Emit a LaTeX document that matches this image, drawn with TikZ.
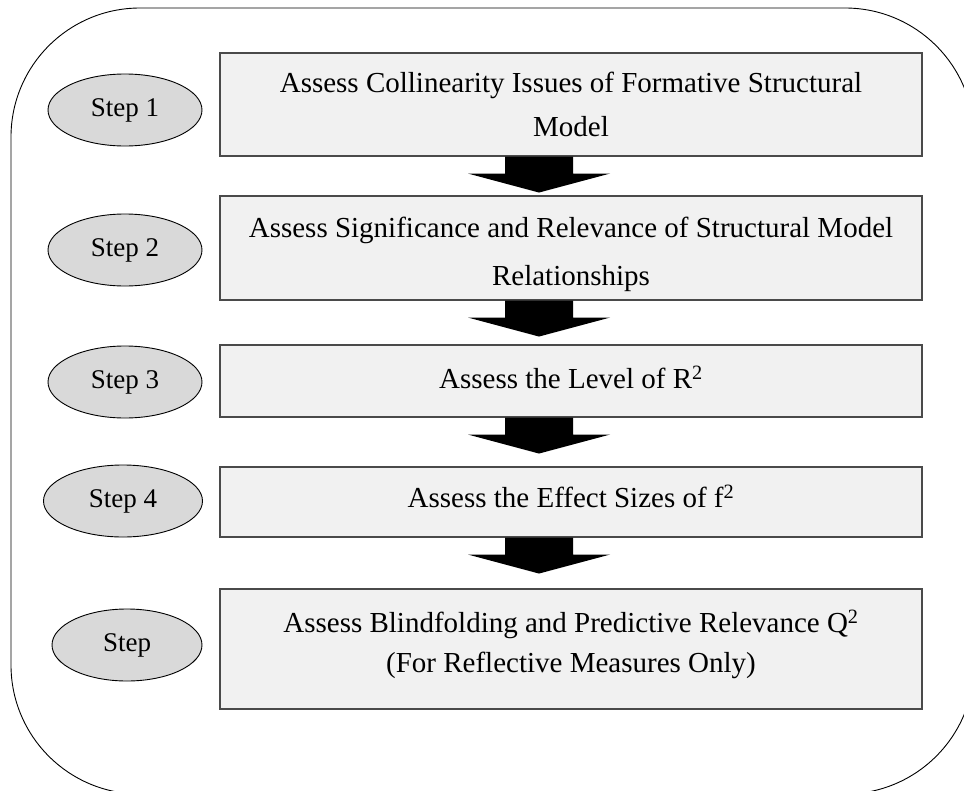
\documentclass[tikz,border=0pt]{standalone}
\usepackage{fontspec}
\setmainfont{Liberation Serif}
\usetikzlibrary{shapes.geometric,calc}
\definecolor{boxgray}{HTML}{F1F1F1}
\definecolor{ovalgray}{HTML}{D9D9D9}
\definecolor{edgegray}{HTML}{4A4A4A}
\begin{document}
\begin{tikzpicture}[x=1pt,y=-1pt,
  stepbox/.style={rectangle,draw=edgegray,fill=boxgray,line width=1.1pt,minimum width=702pt,inner sep=0pt},
  steptext/.style={align=center,inner sep=0pt,font=\fontsize{29}{44}\selectfont},
  stepoval/.style={ellipse,draw=black,fill=ovalgray,line width=0.9pt,inner sep=0pt,minimum height=72pt,font=\rmfamily\fontsize{27}{30}\selectfont},
  blockarrow/.style={fill=black}]
\useasboundingbox (0,0) rectangle (964,790);
\draw[line width=0.9pt, rounded corners=129pt] (11,8) rectangle (974,794);
\coordinate (ax) at (539,0);
% boxes
\node[stepbox, minimum height=103pt] (b1) at (571,104.5) {};
\node[stepbox, minimum height=104pt] (b2) at (571,248) {};
\node[stepbox, minimum height=72pt] (b3) at (571,381) {};
\node[stepbox, minimum height=70pt] (b4) at (571,502) {};
\node[stepbox, minimum height=120pt] (b5) at (571,649) {};
% box texts
\node[steptext] (t1) at ([yshift=0pt]b1.center) {Assess Collinearity Issues of Formative Structural\\Model};
\node[steptext] (t2) at ([yshift=-6pt]b2.center) {Assess Significance and Relevance of Structural Model\\[4pt]Relationships};
\node[steptext] (t3) at ([yshift=4pt]b3.center) {Assess the Level of R\textsuperscript{2}};
\node[steptext] (t4) at ([yshift=6pt]b4.center) {Assess the Effect Sizes of f\textsuperscript{2}};
\node[steptext] (t5) at ([yshift=5pt]b5.center) {Assess Blindfolding and Predictive Relevance Q\textsuperscript{2}\\[-4pt](For Reflective Measures Only)};
% ovals
\node[stepoval, minimum width=154pt] (s1) at (125,110) {Step 1};
\node[stepoval, minimum width=154pt] (s2) at (125,250) {Step 2};
\node[stepoval, minimum width=154pt] (s3) at (125,382) {Step 3};
\node[stepoval, minimum width=159pt] (s4) at (123,501) {Step 4};
\node[stepoval, minimum width=150pt] (s5) at (127,645) {Step};
% block arrows
\foreach \b in {b1,b2,b3,b4}{
  \fill[blockarrow] let \p1=(\b.south -| ax) in
    (\x1-34pt,\y1) -- (\x1+34pt,\y1) -- (\x1+34pt,\y1-17pt) -- (\x1+71pt,\y1-17pt)
    -- (\x1,\y1-36pt) -- (\x1-71pt,\y1-17pt) -- (\x1-34pt,\y1-17pt) -- cycle;
}
\end{tikzpicture}
\end{document}
